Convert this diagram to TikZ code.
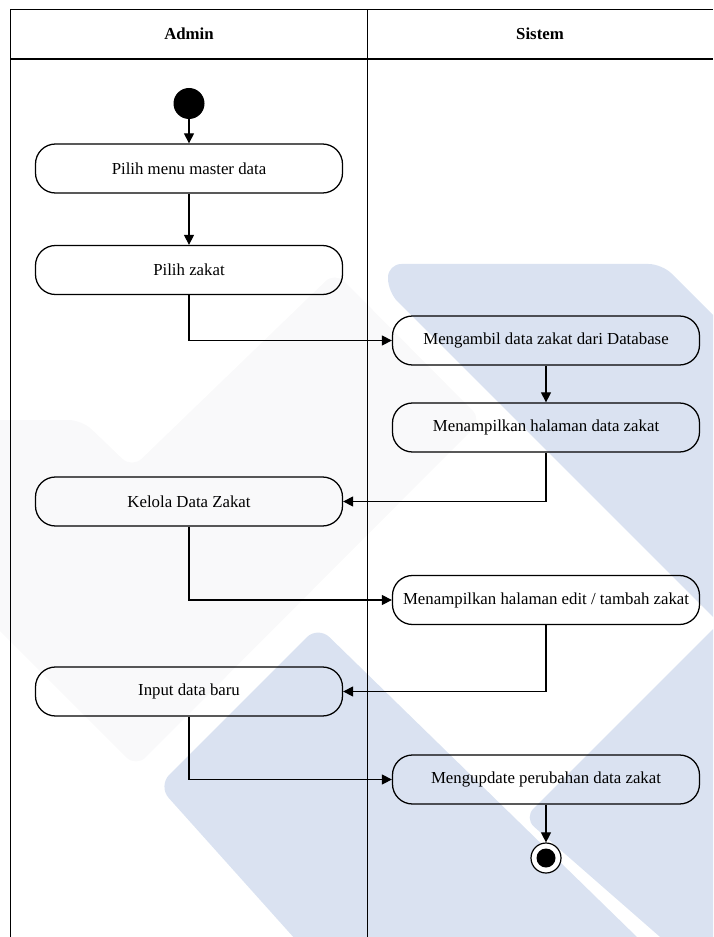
\documentclass[tikz,border=0pt]{standalone}
\usepackage{fontspec}
\setmainfont{Liberation Serif}
\usetikzlibrary{arrows.meta}

\definecolor{wmblue}{RGB}{218,226,241}
\definecolor{wmgrey}{RGB}{249,249,250}

\tikzset{
  act/.style={draw, rounded corners=15pt, line width=0.95pt, minimum width=307*0.75pt, minimum height=49*0.75pt, inner sep=0pt, font=\fontsize{12.6}{15}\selectfont},
  lane/.style={font=\bfseries\fontsize{12.6}{15}\selectfont},
  flow/.style={line width=0.85pt, -{Triangle[length=7.5pt,width=7.5pt]}},
  frame/.style={line width=1.25pt},
}

\begin{document}
\begin{tikzpicture}

\newcommand\X{0.75pt}
\newcommand\Y{-0.75pt}

\useasboundingbox (0,0) rectangle (713*\X, 937*\Y);

%% watermark
\begin{scope}
\clip (0,0) rectangle (713*\X, 937*\Y);
\fill[wmgrey, rounded corners=10pt] (-20*\X, 420*\Y) -- (82*\X, 420*\Y) -- (132*\X, 468*\Y) -- (335*\X, 272*\Y) -- (482*\X, 420*\Y) -- (136*\X, 767*\Y) -- (-20*\X, 611*\Y) -- cycle;
\fill[wmblue, rounded corners=10pt] (388*\X, 264*\Y) -- (662*\X, 264*\Y) -- (760*\X, 362*\Y) -- (760*\X, 664*\Y) -- (388*\X, 292*\Y) -- cycle;
\fill[wmblue, rounded corners=12pt] (318*\X, 626*\Y) -- (158*\X, 786*\Y) -- (330*\X, 978*\Y) -- (679*\X, 978*\Y) -- cycle;
\fill[wmblue, rounded corners=10pt] (524*\X, 818*\Y) -- (760*\X, 582*\Y) -- (760*\X, 978*\Y) -- (707*\X, 978*\Y) -- cycle;
\end{scope}

%% lanes
\draw[frame] (10.5*\X, 937*\Y) -- (10.5*\X, 9.5*\Y) -- (713*\X, 9.5*\Y);
\draw[frame] (10.5*\X, 59*\Y) -- (713*\X, 59*\Y);
\draw[frame] (367.5*\X, 9.5*\Y) -- (367.5*\X, 937*\Y);

\node[lane] (admin) at (189*\X, 34*\Y) {Admin};
\node[lane] (sistem) at (540*\X, 34*\Y) {Sistem};

%% activities
\node[circle, fill=black, minimum size=31*\X, inner sep=0pt] (start) at (189*\X, 103.5*\Y) {};

\node[act] (menu) at (189*\X, 168.5*\Y) {Pilih menu master data};
\node[act] (zakat) at (189*\X, 270*\Y) {Pilih zakat};
\node[act] (ambil) at (546*\X, 340.5*\Y) {Mengambil data zakat dari Database};
\node[act] (tampil) at (546*\X, 427.5*\Y) {Menampilkan halaman data zakat};
\node[act] (kelola) at (189*\X, 501.5*\Y) {Kelola Data Zakat};
\node[act] (edit) at (546*\X, 600*\Y) {Menampilkan halaman edit / tambah zakat};
\node[act] (input) at (189*\X, 691.5*\Y) {Input data baru};
\node[act] (update) at (546*\X, 779.5*\Y) {Mengupdate perubahan data zakat};

\node[circle, draw, fill=white, line width=0.9pt, minimum size=30*\X, inner sep=0pt] (stop) at (546*\X, 858*\Y) {};
\node[circle, fill=black, minimum size=19*\X, inner sep=0pt] (stopdot) at (stop) {};

%% flows
\draw[flow] (start) -- (menu);
\draw[flow] (menu) -- (zakat);
\draw[flow] (zakat) |- (ambil);
\draw[flow] (ambil) -- (tampil);
\draw[flow] (tampil) |- (kelola);
\draw[flow] (kelola) |- (edit);
\draw[flow] (edit) |- (input);
\draw[flow] (input) |- (update);
\draw[flow] (update) -- (stop);

\end{tikzpicture}
\end{document}
